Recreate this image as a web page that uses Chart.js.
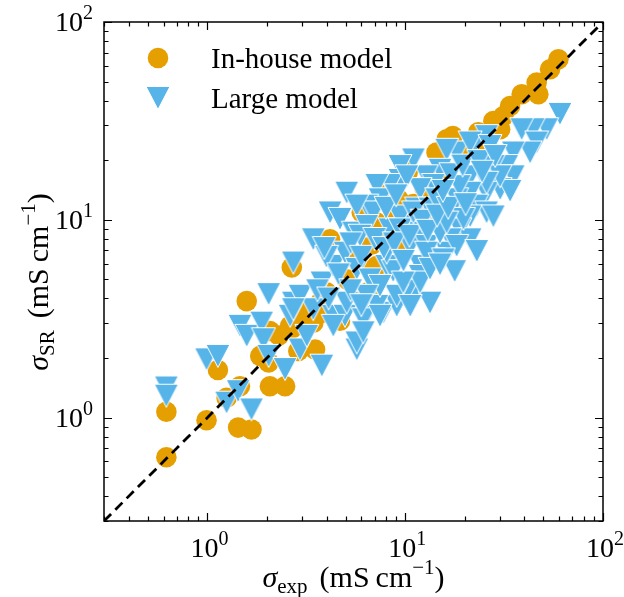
<!DOCTYPE html>
<html>
<head>
<meta charset="utf-8">
<script src="https://cdn.jsdelivr.net/npm/chart.js@4.4.1/dist/chart.umd.min.js"></script>
<style>
  html, body { margin: 0; padding: 0; background: #fff; }
  #wrap { width: 624px; height: 597px; }
</style>
</head>
<body>
<div id="wrap"><canvas id="chart"></canvas></div>
<script>
// In-house model (orange circles): experimental vs predicted conductivity, mS/cm
const inHouseX = [0.62, 0.62, 0.99, 1.43, 1.67, 1.25, 1.46, 1.13, 1.58, 2.07,
  2.47, 1.85, 2.04, 2.07, 2.67, 2.67, 2.88, 3.50, 4.17, 6.03,
  7.18, 8.38, 10.3, 5.45, 7.18, 5.06, 3.71, 2.62, 4.68, 6.48,
  14.4, 17.4, 9.24, 12.3, 9.78, 7.75, 5.69, 3.85, 3.43,
  59.5, 54.0, 46.2, 47.1, 38.8, 33.9, 31.3, 27.9, 30.2, 23.4, 16.2,
  26.8, 15.5, 4.0, 5.8, 6.8, 8.8, 11.0, 12.5, 3.2, 9.5, 20.0, 24.0, 3.0, 2.3];
const inHouseY = [0.63, 1.07, 0.97, 0.89, 0.87, 1.26, 1.44, 1.74, 3.88, 1.44,
  1.44, 2.05, 1.90, 2.74, 5.74, 2.81, 2.17, 2.21, 7.97, 10.9,
  9.68, 14.3, 17.4, 6.57, 5.84, 5.00, 3.81, 2.91, 3.09, 4.30,
  21.9, 26.5, 12.7, 10.3, 7.81, 8.95, 6.46, 3.39, 3.02,
  64.8, 57.7, 49.4, 43.1, 43.1, 37.6, 33.4, 31.6, 28.7, 27.7, 25.5,
  21.9, 18.3, 4.3, 6.1, 7.5, 10.0, 12.0, 14.5, 3.5, 9.2, 22.0, 24.5, 3.3, 2.6];

// Large model (blue triangles)
const largeX = [0.62, 0.62, 0.99, 1.13, 1.25, 1.43, 1.67, 1.46, 1.58, 1.88,
  1.92, 2.04, 2.04, 2.47, 2.72, 2.72, 2.94, 2.62, 2.94, 3.79,
  3.79, 4.33, 4.96, 5.69, 6.39, 7.75, 9.06, 6.90,
  60.6, 51.9, 44.4, 38.8, 46.2, 42.8, 35.2, 32.6, 27.9, 35.2,
  30.2, 25.8, 33.9, 23.0, 25.8, 21.3, 18.9, 21.3, 16.9, 16.2,
  13.9, 25.8, 22.1, 18.2, 16.2, 15.0, 12.8, 13.9, 11.9, 11.0,
  9.41, 9.41, 8.38, 7.18, 7.46, 6.39, 6.90, 5.06, 4.17, 3.43,
  4.68, 5.69, 5.47, 6.39, 11.4, 13.35, 10.2, 11.9, 10.6, 12.8, 15.0,
  4.33, 4.96, 5.91, 5.69, 6.64, 8.06, 8.38, 11.9, 11.0, 7.18,
  6.14, 5.06, 4.33, 3.43, 2.72, 3.18, 5.69, 10.2, 9.41, 21.3,
  26.8, 30.2, 25.8, 21.3, 21.3, 18.2, 27.9, 19.7, 16.2, 18.2,
  12.8, 15.6, 17.8, 11.9, 10.2, 8.70, 9.06, 8.06, 9.41, 11.0,
  14.4, 23.0, 13.35, 10.6, 7.46, 6.14, 11.9, 9.78, 7.46, 6.39,
  13.35, 15.0,
  4.0, 4.6, 5.3, 6.0, 7.0, 7.8, 8.8, 9.8, 10.5, 12.2,
  13.0, 14.5, 16.5, 18.8, 17.0, 19.5, 23.5, 28.5, 24.5, 20.2,
  15.5, 8.0, 9.0, 3.6, 4.1, 5.3, 6.0, 3.9];
const largeY = [1.42, 1.29, 1.97, 2.05, 1.19, 1.36, 1.10, 2.91, 2.59, 3.02,
  2.49, 2.05, 4.21, 1.76, 6.08, 3.81, 4.13, 3.27, 2.21, 1.83,
  4.82, 3.27, 3.27, 2.21, 3.33, 3.39, 3.67, 4.63,
  34.3, 28.7, 28.7, 28.7, 24.6, 21.9, 21.9, 18.7, 18.7, 16.6,
  14.3, 13.7, 14.0, 11.8, 10.9, 10.4, 8.95, 7.97, 7.97, 6.82,
  6.31, 26.5, 23.6, 21.9, 22.6, 17.9, 16.6, 15.0, 14.3, 20.2,
  18.7, 15.9, 15.0, 15.0, 12.7, 11.8, 10.9, 13.7, 10.9, 7.97,
  10.1, 11.8, 8.61, 9.30, 11.4, 11.4, 9.30, 8.61, 7.38, 7.38, 8.61,
  5.84, 6.82, 8.31, 5.65, 5.00, 5.84, 8.95, 5.84, 4.13, 3.67,
  3.14, 3.81, 2.91, 3.53, 3.53, 2.59, 2.40, 16.6, 10.4, 24.6,
  23.6, 16.6, 15.4, 16.6, 13.7, 12.7, 10.4, 10.1, 9.68, 7.38,
  6.82, 6.31, 5.50, 5.20, 4.38, 5.50, 4.13, 6.82, 8.95, 10.9,
  12.7, 6.95, 3.81, 3.67, 3.27, 2.70, 4.82, 4.82, 4.63, 4.13,
  5.65, 5.95,
  6.5, 5.3, 7.6, 6.5, 8.0, 7.2, 7.6, 6.2, 8.3, 9.9,
  8.8, 10.5, 11.5, 14.8, 17.0, 18.8, 19.8, 21.0, 17.5, 12.0,
  14.0, 11.5, 13.3, 4.4, 4.0, 4.4, 3.7, 7.2];

// parity line y = x across the axis range
const parityLine = [0.3, 100];
const axisRange = [0.3, 100];

// ticks
const majorTicks = [1, 10, 100];
const tickExponents = ['0', '1', '2'];
const minorTicks = [0.3, 0.4, 0.5, 0.6, 0.7, 0.8, 0.9,
  2, 3, 4, 5, 6, 7, 8, 9, 20, 30, 40, 50, 60, 70, 80, 90];

const orange = '#E69F00';
const blue = '#56B4E9';
const serif = "'Liberation Serif', 'DejaVu Serif', serif";

// triangle-down marker, matplotlib style (same width and height)
const tri = document.createElement('canvas');
tri.width = 26; tri.height = 26;
(function () {
  const c = tri.getContext('2d');
  c.beginPath();
  c.moveTo(1, 1.5);
  c.lineTo(25, 1.5);
  c.lineTo(13, 24.5);
  c.closePath();
  c.fillStyle = blue;
  c.fill();
  c.strokeStyle = '#fff';
  c.lineWidth = 1;
  c.stroke();
})();

function toPoints(xs, ys) {
  return xs.map((x, i) => ({ x: x, y: ys[i] }));
}

// draws a run of text pieces of mixed size (sub/superscripts)
function richText(ctx, parts, cx, baseY) {
  let total = 0;
  parts.forEach(p => {
    ctx.font = (p.italic ? 'italic ' : '') + p.size + 'px ' + serif;
    p.w = ctx.measureText(p.t).width;
    total += p.w + (p.gap || 0);
  });
  let x = cx - total / 2;
  parts.forEach(p => {
    ctx.font = (p.italic ? 'italic ' : '') + p.size + 'px ' + serif;
    ctx.fillText(p.t, x, baseY + (p.dy || 0));
    x += p.w + (p.gap || 0);
  });
  return total;
}

const axesPlugin = {
  id: 'mplAxes',
  afterDraw(chart) {
    const ctx = chart.ctx;
    const a = chart.chartArea;
    const xs = chart.scales.x, ys = chart.scales.y;
    ctx.save();
    ctx.strokeStyle = '#000';
    ctx.fillStyle = '#000';

    // inward ticks on all four sides
    ctx.lineWidth = 1.2;
    const tick = (vals, len) => {
      ctx.beginPath();
      vals.forEach(v => {
        const px = Math.round(xs.getPixelForValue(v)) + 0.5;
        ctx.moveTo(px, a.bottom); ctx.lineTo(px, a.bottom - len);
        ctx.moveTo(px, a.top); ctx.lineTo(px, a.top + len);
        const py = Math.round(ys.getPixelForValue(v)) + 0.5;
        ctx.moveTo(a.left, py); ctx.lineTo(a.left + len, py);
        ctx.moveTo(a.right, py); ctx.lineTo(a.right - len, py);
      });
      ctx.stroke();
    };
    tick(majorTicks, 8);
    tick(minorTicks, 4.5);

    // frame
    ctx.lineWidth = 1.5;
    ctx.strokeRect(a.left, a.top, a.right - a.left, a.bottom - a.top);

    // tick labels 10^n
    ctx.textBaseline = 'alphabetic';
    majorTicks.forEach((v, i) => {
      const e = tickExponents[i];
      const px = xs.getPixelForValue(v);
      richText(ctx, [{ t: '10', size: 28 }, { t: e, size: 20, dy: -12 }], px + 2, a.bottom + 36);
      const py = ys.getPixelForValue(v);
      ctx.font = '28px ' + serif;
      const w1 = ctx.measureText('10').width;
      ctx.font = '20px ' + serif;
      const w2 = ctx.measureText(e).width;
      const right = a.left - 11;
      richText(ctx, [{ t: '10', size: 28 }, { t: e, size: 20, dy: -12 }], right - (w1 + w2) / 2, py + 9);
    });

    // axis titles
    richText(ctx, [
      { t: 'σ', size: 30, italic: true },
      { t: 'exp', size: 21, dy: 6, gap: 12 },
      { t: '(mS\u2009cm', size: 30 },
      { t: '−1', size: 21, dy: -13 },
      { t: ')', size: 30 }
    ], (a.left + a.right) / 2, 587);

    ctx.save();
    ctx.translate(48, 282);
    ctx.rotate(-Math.PI / 2);
    richText(ctx, [
      { t: 'σ', size: 30, italic: true },
      { t: 'SR', size: 21, dy: 6, gap: 12 },
      { t: '(mS\u2009cm', size: 30 },
      { t: '−1', size: 21, dy: -13 },
      { t: ')', size: 30 }
    ], 0, 0);
    ctx.restore();

    // legend (upper left, no frame)
    const ds = chart.data.datasets;
    ctx.fillStyle = orange;
    ctx.beginPath();
    ctx.arc(a.left + 54, a.top + 36, 10.3, 0, Math.PI * 2);
    ctx.fill();
    ctx.drawImage(tri, a.left + 54 - 13, a.top + 76 - 13);
    ctx.fillStyle = '#000';
    ctx.font = '29px ' + serif;
    ctx.fillText(ds[1].label, a.left + 107, a.top + 46);
    ctx.fillText(ds[2].label, a.left + 107, a.top + 86);

    ctx.restore();
  }
};

new Chart(document.getElementById('chart'), {
  type: 'scatter',
  data: {
    datasets: [
      {
        label: 'parity',
        data: toPoints(parityLine, parityLine),
        showLine: true,
        borderColor: '#000',
        borderWidth: 2.8,
        borderDash: [10, 6],
        pointRadius: 0,
        order: 0
      },
      {
        label: 'In-house model',
        data: toPoints(inHouseX, inHouseY),
        backgroundColor: orange,
        borderWidth: 0,
        pointRadius: 10.3,
        order: 2
      },
      {
        label: 'Large model',
        data: toPoints(largeX, largeY),
        pointStyle: tri,
        backgroundColor: blue,
        borderWidth: 0,
        pointRadius: 13,
        order: 1
      }
    ]
  },
  options: {
    responsive: true,
    maintainAspectRatio: false,
    animation: false,
    events: [],
    layout: { padding: { left: 104, right: 21, top: 22, bottom: 76 } },
    plugins: {
      legend: { display: false },
      tooltip: { enabled: false }
    },
    scales: {
      x: { type: 'logarithmic', min: axisRange[0], max: axisRange[1], display: false },
      y: { type: 'logarithmic', min: axisRange[0], max: axisRange[1], display: false }
    }
  },
  plugins: [axesPlugin]
});
</script>
</body>
</html>
